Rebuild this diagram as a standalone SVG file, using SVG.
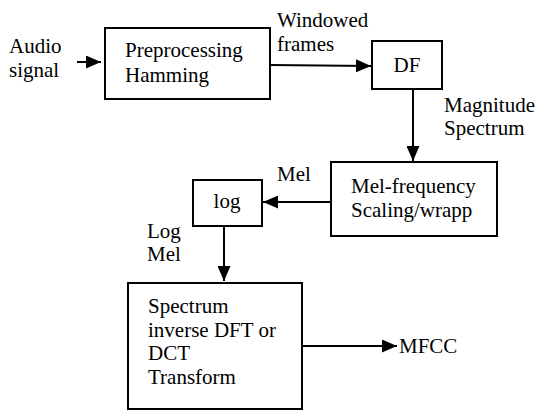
<svg xmlns="http://www.w3.org/2000/svg" width="538" height="410" viewBox="0 0 538 410">
  <style>
    .box { fill: #fff; stroke: #000; stroke-width: 2; }
    .wire { fill: none; stroke: #000; stroke-width: 2; }
    text { font-family: "Liberation Serif", "Times New Roman", serif; font-size: 21px; fill: #000; }
    .c { text-anchor: middle; }
  </style>
  <defs>
    <marker id="arrow" viewBox="0 0 15 13" refX="15" refY="6.5" markerWidth="15" markerHeight="13" markerUnits="userSpaceOnUse" orient="auto">
      <path d="M0,0 L15,6.5 L0,13 Z" fill="#000"/>
    </marker>
  </defs>

  <rect width="538" height="410" fill="#fff"/>

  <!-- connectors and their labels -->
  <g id="connectors">
    <line class="wire" x1="77" y1="62" x2="101" y2="62" marker-end="url(#arrow)"/>
    <line class="wire" x1="270" y1="65" x2="371" y2="66" marker-end="url(#arrow)"/>
    <line class="wire" x1="413" y1="89" x2="413" y2="161" marker-end="url(#arrow)"/>
    <line class="wire" x1="331" y1="202" x2="263" y2="202" marker-end="url(#arrow)"/>
    <line class="wire" x1="224" y1="226" x2="224" y2="281" marker-end="url(#arrow)"/>
    <line class="wire" x1="302" y1="346" x2="397" y2="346" marker-end="url(#arrow)"/>

    <text x="9" y="53">Audio</text>
    <text x="9" y="77">signal</text>
    <text x="277" y="27">Windowed</text>
    <text x="277" y="51">frames</text>
    <text x="444" y="112">Magnitude</text>
    <text x="444" y="135">Spectrum</text>
    <text x="277" y="181">Mel</text>
    <text x="147" y="238">Log</text>
    <text x="147" y="261">Mel</text>
    <text x="399" y="353">MFCC</text>
  </g>

  <g id="preprocessing">
    <rect class="box" x="105" y="28" width="165" height="71"/>
    <text x="125" y="57">Preprocessing</text>
    <text x="125" y="82">Hamming</text>
  </g>

  <g id="df">
    <rect class="box" x="372" y="41" width="70" height="48"/>
    <text class="c" x="407" y="72">DF</text>
  </g>

  <g id="mel-frequency">
    <rect class="box" x="331" y="162" width="166" height="74"/>
    <text x="351" y="193">Mel-frequency</text>
    <text x="351" y="217">Scaling/wrapp</text>
  </g>

  <g id="log">
    <rect class="box" x="193" y="180" width="69" height="46"/>
    <text class="c" x="227" y="208">log</text>
  </g>

  <g id="transform">
    <rect class="box" x="128" y="283" width="174" height="126"/>
    <text x="148" y="313">Spectrum</text>
    <text x="148" y="337">inverse DFT or</text>
    <text x="148" y="360">DCT</text>
    <text x="148" y="384">Transform</text>
  </g>
</svg>
